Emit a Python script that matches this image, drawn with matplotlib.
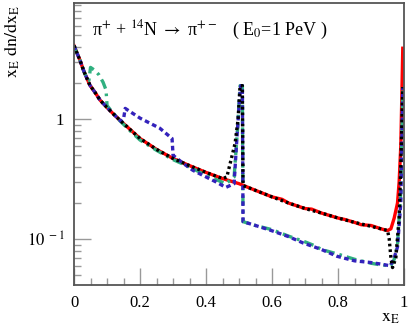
import numpy as np
import matplotlib.pyplot as plt
from matplotlib.ticker import FixedLocator, FixedFormatter, NullFormatter

plt.rcParams['font.family'] = ['Liberation Serif', 'DejaVu Serif']
plt.rcParams['mathtext.fontset'] = 'stix'

# red solid curve
red_x = [0.0, 0.01, 0.018, 0.03, 0.048, 0.065, 0.079, 0.1, 0.12, 0.139, 0.17, 0.2, 0.25,
         0.3, 0.35, 0.4, 0.45, 0.5, 0.55, 0.6, 0.63, 0.65, 0.7, 0.72, 0.75, 0.8, 0.82,
         0.85, 0.87, 0.9, 0.93, 0.95, 0.96, 0.97, 0.98, 0.985, 0.99, 0.993, 0.996]
red_y = [4.1, 3.5, 3.1, 2.5, 1.92, 1.65, 1.44, 1.25, 1.1, 0.98, 0.82, 0.69, 0.56,
         0.47, 0.41, 0.36, 0.32, 0.29, 0.255, 0.225, 0.215, 0.2, 0.18, 0.178, 0.165, 0.15, 0.146,
         0.138, 0.132, 0.13, 0.122, 0.118, 0.122, 0.15, 0.2, 0.3, 0.6, 1.5, 3.9]

# black dotted curve
black_x = [0.0, 0.01, 0.018, 0.03, 0.048, 0.065, 0.079, 0.1, 0.12, 0.139, 0.17, 0.2, 0.25,
           0.3, 0.35, 0.4, 0.45, 0.463, 0.475, 0.488, 0.497, 0.503, 0.51, 0.512,
           0.55, 0.6, 0.65, 0.7, 0.75, 0.8, 0.85, 0.9, 0.95, 0.955, 0.96, 0.965,
           0.975, 0.985, 0.99, 0.996]
black_y = [4.1, 3.5, 3.1, 2.5, 1.92, 1.65, 1.44, 1.25, 1.1, 0.98, 0.82, 0.69, 0.56,
           0.47, 0.41, 0.36, 0.32, 0.33, 0.45, 0.63, 1.0, 1.9, 1.9, 0.28,
           0.255, 0.225, 0.2, 0.18, 0.165, 0.15, 0.138, 0.128, 0.118, 0.1, 0.07, 0.058,
           0.07, 0.15, 0.4, 1.85]

# blue dashed curve
blue_x = [0.0, 0.01, 0.018, 0.03, 0.048, 0.065, 0.079, 0.1, 0.12, 0.142, 0.15, 0.155,
          0.2, 0.26, 0.297, 0.3, 0.33, 0.36, 0.4, 0.43, 0.46, 0.485, 0.492, 0.5, 0.505,
          0.51, 0.512, 0.55, 0.594, 0.65, 0.694, 0.75, 0.797, 0.85, 0.897, 0.93, 0.958,
          0.97, 0.98, 0.99, 0.996]
blue_y = [4.1, 3.5, 3.1, 2.5, 1.92, 1.65, 1.44, 1.25, 1.1, 0.96, 1.0, 1.23,
          1.02, 0.84, 0.69, 0.5, 0.43, 0.375, 0.33, 0.3, 0.27, 0.29, 0.6, 1.3, 1.9,
          1.9, 0.14, 0.13, 0.119, 0.105, 0.093, 0.082, 0.072, 0.066, 0.064, 0.062, 0.06,
          0.07, 0.086, 0.2, 1.85]

# green dash-dot curve
green_x = [0.0, 0.01, 0.018, 0.03, 0.04, 0.045, 0.05, 0.063, 0.075, 0.088, 0.097, 0.1, 0.11,
           0.139, 0.17, 0.2, 0.25, 0.3, 0.35, 0.4, 0.46, 0.485, 0.495, 0.503, 0.51, 0.512,
           0.55, 0.6, 0.65, 0.7, 0.73, 0.75, 0.8, 0.85, 0.9, 0.93, 0.96, 0.97, 0.98,
           0.99, 0.996]
green_y = [4.1, 3.5, 3.1, 2.5, 2.15, 2.1, 2.7, 2.55, 2.35, 2.03, 1.75, 1.3, 1.2,
           0.97, 0.8, 0.67, 0.55, 0.46, 0.4, 0.34, 0.29, 0.33, 0.8, 1.9, 1.9, 0.14,
           0.13, 0.12, 0.106, 0.095, 0.088, 0.082, 0.075, 0.068, 0.063, 0.061, 0.06, 0.068,
           0.09, 0.25, 1.85]

fig = plt.figure(figsize=(4.09, 3.27), dpi=100)
ax = fig.add_axes([0.181, 0.128, 0.807, 0.863])

ax.plot(red_x, red_y, color='#ff0000', lw=2.4, solid_joinstyle='round')
ax.plot(green_x, green_y, color='#30b080', lw=2.4, dashes=(3, 1.5, 0.8, 1.5))
ax.plot(blue_x, blue_y, color='#3322bb', lw=2.4, dashes=(1.4, 1.0))
ax.plot(black_x, black_y, color='black', lw=2.4, dashes=(0.8, 0.9))

ax.set_yscale('log')
ax.set_xlim(0, 1)
ax.set_ylim(0.0414, 9.3)

ax.set_xticks([0, 0.2, 0.4, 0.6, 0.8, 1.0])
ax.set_xticklabels(['0', '0.2', '0.4', '0.6', '0.8', '1'])
ax.set_xticks(np.arange(0, 1.0001, 0.05), minor=True)
ax.yaxis.set_major_locator(FixedLocator([0.1, 1.0]))
ax.yaxis.set_major_formatter(FixedFormatter(['$10^{\\ -1}$', '1']))
ax.yaxis.set_minor_formatter(NullFormatter())

ax.tick_params(which='both', direction='in', top=False, right=False,
               color='#999999', labelsize=12, pad=7)
ax.tick_params(which='major', length=12, width=1)
ax.tick_params(which='minor', length=5, width=1)
for s in ax.spines.values():
    s.set_color('#555555')
    s.set_linewidth(1.3)

ax.text(0.055, 0.885, 'π$^{+}$ + $^{14}$N $\\rightarrow$ π$^{+-}$   ( E$_0$=1 PeV )',
        transform=ax.transAxes, fontsize=13)
fig.text(0.03, 0.985, '$\\mathrm{x_E\\ dn/dx_E}$', rotation=90, ha='center', va='top', fontsize=13)
fig.text(0.955, 0.03, '$\\mathrm{x_E}$', ha='center', va='center', fontsize=13)

fig.savefig('out.png', dpi=100)
